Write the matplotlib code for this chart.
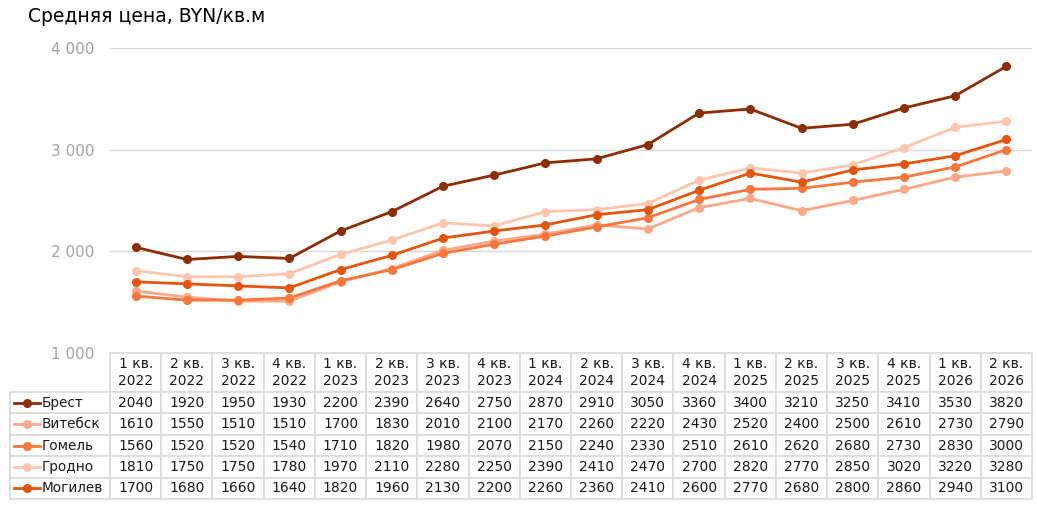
import matplotlib.pyplot as plt
from matplotlib.lines import Line2D

# quarters and prices, BYN per sq.m
quarters = ['1 кв.\n2022', '2 кв.\n2022', '3 кв.\n2022', '4 кв.\n2022',
            '1 кв.\n2023', '2 кв.\n2023', '3 кв.\n2023', '4 кв.\n2023',
            '1 кв.\n2024', '2 кв.\n2024', '3 кв.\n2024', '4 кв.\n2024',
            '1 кв.\n2025', '2 кв.\n2025', '3 кв.\n2025', '4 кв.\n2025',
            '1 кв.\n2026', '2 кв.\n2026']
cities = ['Брест', 'Витебск', 'Гомель', 'Гродно', 'Могилев']
brest = [2040, 1920, 1950, 1930, 2200, 2390, 2640, 2750, 2870, 2910, 3050, 3360, 3400, 3210, 3250, 3410, 3530, 3820]
vitebsk = [1610, 1550, 1510, 1510, 1700, 1830, 2010, 2100, 2170, 2260, 2220, 2430, 2520, 2400, 2500, 2610, 2730, 2790]
gomel = [1560, 1520, 1520, 1540, 1710, 1820, 1980, 2070, 2150, 2240, 2330, 2510, 2610, 2620, 2680, 2730, 2830, 3000]
grodno = [1810, 1750, 1750, 1780, 1970, 2110, 2280, 2250, 2390, 2410, 2470, 2700, 2820, 2770, 2850, 3020, 3220, 3280]
mogilev = [1700, 1680, 1660, 1640, 1820, 1960, 2130, 2200, 2260, 2360, 2410, 2600, 2770, 2680, 2800, 2860, 2940, 3100]
yticks = [1000, 2000, 3000, 4000]

series = [brest, vitebsk, gomel, grodno, mogilev]
colors = ['#8c2d04', '#fca98a', '#f9773c', '#fdc6ad', '#e6550d']

plt.rcParams['font.family'] = ['DejaVu Sans']

W, H = 1037, 515
fig = plt.figure(figsize=(W / 100, H / 100), dpi=100)
# axes in pixel terms: x 110..1032, y 48..353
ax = fig.add_axes([110 / W, 1 - 353 / H, 922 / W, 305 / H])

n = len(quarters)
xs = list(range(n))
# light ones first so the dark lines sit on top
for idx in [3, 1, 2, 4, 0]:
    ax.plot(xs, series[idx], color=colors[idx], lw=2, marker='o', ms=5.5, zorder=3, clip_on=False)

ax.set_xlim(-0.5, n - 0.5)
ax.set_ylim(1000, 4000)
ax.set_yticks(yticks)
ax.set_yticklabels([f'{v:,}'.replace(',', ' ') for v in yticks])
ax.tick_params(axis='y', length=0, pad=11, labelsize=11, labelcolor='#a3a3a3')
ax.set_xticks([])
for s in ax.spines.values():
    s.set_visible(False)
for v in yticks[1:]:
    ax.axhline(v, color='#d9d9d9', lw=1, zorder=1)

# data table: first column holds the city names
cell_text = [[''] + [str(v) for v in s] for s in series]
tbl = ax.table(cellText=cell_text, colLabels=[''] + quarters, cellLoc='center',
               bbox=[-100 / 922, -146 / 305, 1022 / 922, 146 / 305])
tbl.auto_set_font_size(False)
for (r, c), cell in tbl.get_celld().items():
    cell.set_edgecolor('#dcdcdc')
    cell.set_linewidth(1.3)
    cell.get_text().set_fontsize(10)
    cell.get_text().set_color('#1a1a1a')
    cell.set_height(39 if r == 0 else 21.4)
    cell.set_width(100 if c == 0 else 51.2)
    if r == 0 and c == 0:
        cell.set_visible(False)

# row labels with legend markers
for i, name in enumerate(cities):
    yc = (353 - (392 + 21.4 * (i + 0.5))) / 305
    ax.add_line(Line2D([(14 - 110) / 922, (40 - 110) / 922], [yc, yc], transform=ax.transAxes,
                       color=colors[i], lw=2, clip_on=False, zorder=5))
    ax.add_line(Line2D([(27 - 110) / 922], [yc], transform=ax.transAxes,
                       color=colors[i], marker='o', ms=5.5, clip_on=False, zorder=5))
    ax.text((42 - 110) / 922, yc, name, transform=ax.transAxes, ha='left', va='center',
            fontsize=9.8, color='#1a1a1a', zorder=5)

fig.text(28 / W, 1 - 17 / H, 'Средняя цена, BYN/кв.м', ha='left', va='center', fontsize=13.5)

fig.savefig('out.png', dpi=100, facecolor='white')
